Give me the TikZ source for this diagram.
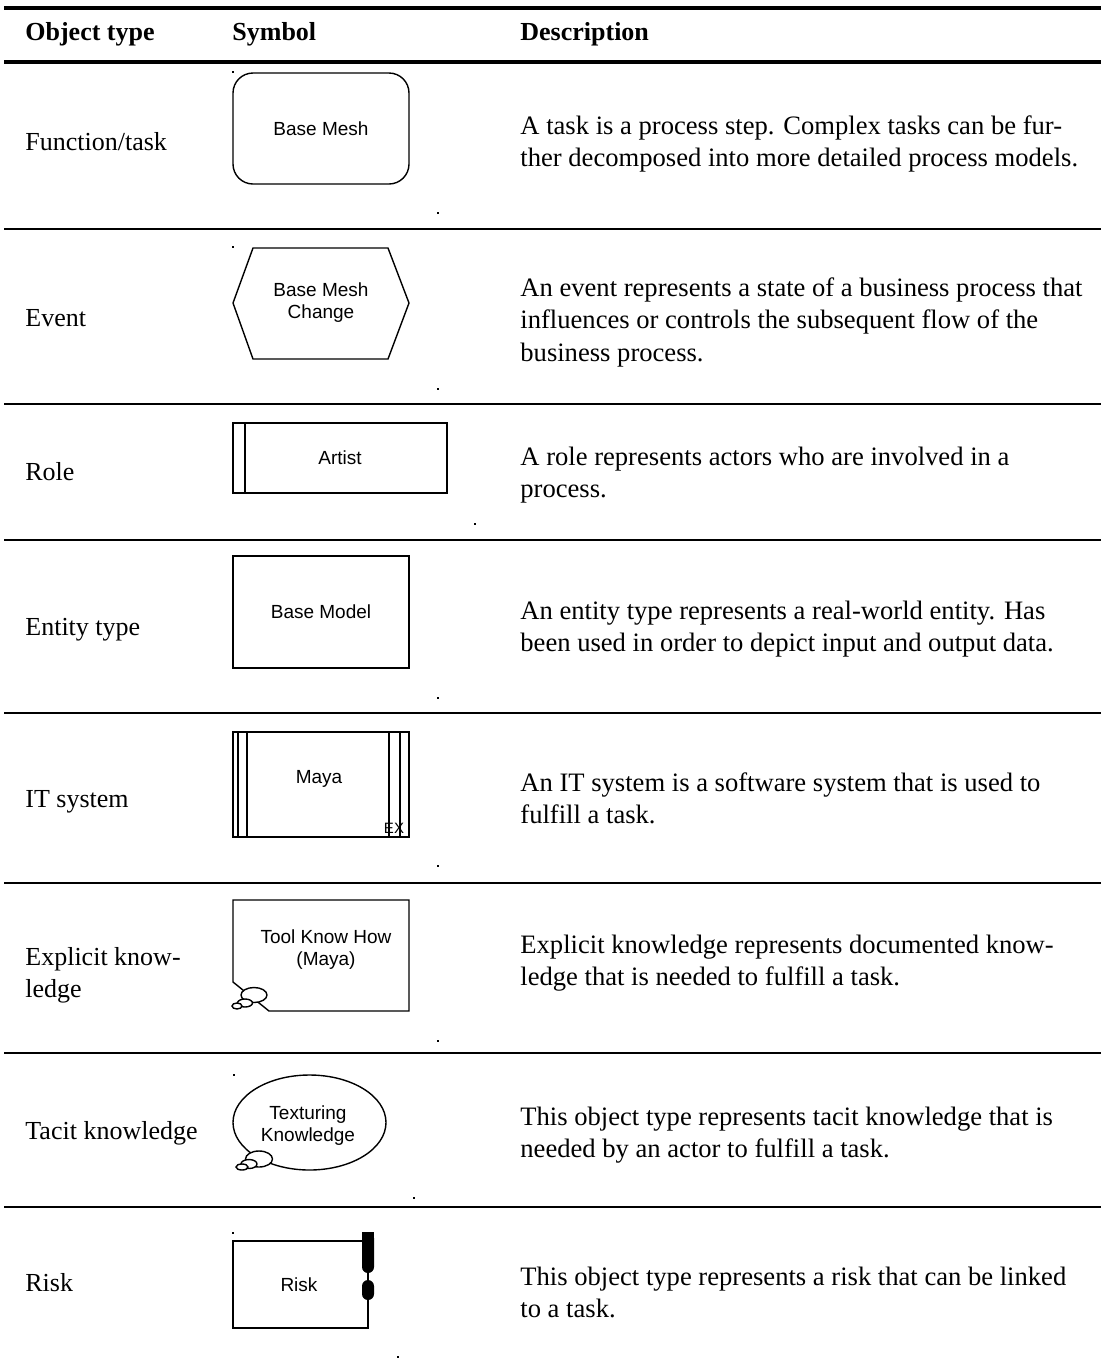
\documentclass[tikz,border=0pt]{standalone}
\usepackage{fontspec}
\setmainfont{Liberation Serif}
\newfontfamily\symfont{Liberation Sans}
\begin{document}
\begin{tikzpicture}[x=0.5pt,y=-0.5pt,
  thickrule/.style={line width=2.4pt},
  thinrule/.style={line width=1.2pt},
  hdr/.style={font=\fontsize{13}{16.25}\selectfont\bfseries, anchor=base west, inner sep=0pt},
  kind/.style={font=\fontsize{13}{16.25}\selectfont, anchor=base west, inner sep=0pt, align=left},
  desc/.style={font=\fontsize{13.3}{16.25}\selectfont, anchor=base west, inner sep=0pt, align=left},
  outline/.style={draw, line width=0.7pt},
  lbl/.style={font=\symfont\fontsize{9.5}{11}\selectfont, align=center, inner sep=0pt},
  bubble/.style={draw, fill=white, line width=0.7pt},
  speck/.style={fill=black}
]
\useasboundingbox (0,0) rectangle (1101,1367);

% table rules
\draw[thickrule] (4,8) -- (1101,8);
\draw[thickrule] (4,62) -- (1101,62);
\foreach \yy in {229,404,540,713,883,1053,1207}
  \draw[thinrule] (4,\yy) -- (1101,\yy);

% header
\node[hdr] (h1) at (25,40) {Object type};
\node[hdr] (h2) at (232,40) {Symbol};
\node[hdr] (h3) at (520,40) {Description};

% object type column (base anchor = baseline of the last line)
\node[kind] (k1) at (25,150) {Function/task};
\node[kind] (k2) at (25,326) {Event};
\node[kind] (k3) at (25,480) {Role};
\node[kind] (k4) at (25,635) {Entity type};
\node[kind] (k5) at (25,807) {IT system};
\node[kind] (k6) at (25,997.5) {Explicit know-\\ledge};
\node[kind] (k7) at (25,1139) {Tacit knowledge};
\node[kind] (k8) at (25,1291) {Risk};

% description column (base anchor = baseline of the last line)
\node[desc] (d1) at (520,166.5) {A task is a process step. Complex tasks can be fur-\\ther decomposed into more detailed process models.};
\node[desc] (d2) at (520,361) {An event represents a state of a business process that\\influences or controls the subsequent flow of the\\business process.};
\node[desc] (d3) at (520,497.5) {A role represents actors who are involved in a\\process.};
\node[desc] (d4) at (520,651.5) {An entity type represents a real-world entity. Has\\been used in order to depict input and output data.};
\node[desc] (d5) at (520,823.5) {An IT system is a software system that is used to\\fulfill a task.};
\node[desc] (d6) at (520,985.5) {Explicit knowledge represents documented know-\\ledge that is needed to fulfill a task.};
\node[desc] (d7) at (520,1157.5) {This object type represents tacit knowledge that is\\needed by an actor to fulfill a task.};
\node[desc] (d8) at (520,1317.5) {This object type represents a risk that can be linked\\to a task.};

% function / task
\draw[outline, rounded corners=10pt] (233,73) rectangle (409,184);
\node[lbl] (s1) at (321,128.5) {Base Mesh};

% event
\draw[outline] (233,303) -- (253,248) -- (388,248) -- (409,303) -- (388,359) -- (253,359) -- cycle;
\node[lbl] (s2) at (321,303) {Base Mesh\\Change};

% role
\draw[outline] (233,423) rectangle (447,493);
\draw[outline] (245,423) -- (245,493);
\node[lbl] (s3) at (340,458) {Artist};

% entity type
\draw[outline] (233,556) rectangle (409,668);
\node[lbl] (s4) at (321,612) {Base Model};

% IT system
\draw[outline] (233,732) rectangle (409,837);
\foreach \xx in {238,247,389,400}
  \draw[outline] (\xx,732) -- (\xx,837);
\node[lbl] (s5) at (319,779) {Maya};
\node[font=\symfont\fontsize{7.5}{7.5}\selectfont, inner sep=0pt] (ex) at (394,828) {EX};

% explicit knowledge
\draw[outline] (233,900) -- (409,900) -- (409,1011) -- (269,1011) -- (233,982) -- cycle;
\draw[bubble] (254,995) ellipse [x radius=13, y radius=7.5];
\draw[bubble] (245,1003) ellipse [x radius=7.5, y radius=4];
\draw[bubble] (237,1006) ellipse [x radius=5, y radius=3];
\node[lbl] (s6) at (326,950) {Tool Know How\\(Maya)};

% tacit knowledge
\draw[outline] (309.5,1122.5) ellipse [x radius=76.5, y radius=47.5];
\draw[bubble] (259,1159) ellipse [x radius=13.5, y radius=8];
\draw[bubble] (249,1164) ellipse [x radius=8, y radius=4.5];
\draw[bubble] (242,1167) ellipse [x radius=6, y radius=3];
\node[lbl] (s7) at (308,1126) {Texturing\\Knowledge};

% risk
\draw[outline] (233,1241) rectangle (368,1328);
\fill[rounded corners=3pt] (362,1232) rectangle (374,1273);
\fill (362,1232) rectangle (374,1242);
\fill[rounded corners=3pt] (362,1280) rectangle (374,1300);
\node[lbl] (s8) at (299,1285) {Risk};

% stray marks
\foreach \px/\py in {232/71,437/212,232/246,437/388,474/523,437/697,437/865,437/1040,233/1074,413/1197,232/1232,397/1356}
  \fill[speck] (\px,\py) rectangle ++(1.5,1.5);
\end{tikzpicture}
\end{document}
